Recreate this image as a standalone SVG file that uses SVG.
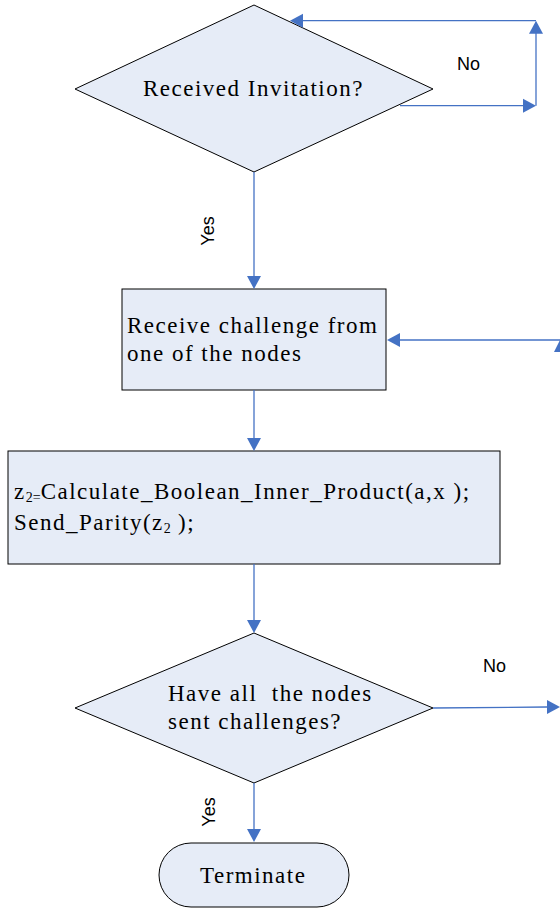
<svg xmlns="http://www.w3.org/2000/svg" width="560" height="909" viewBox="0 0 560 909">
<style>
.shape{fill:#E6ECF7;stroke:#000;stroke-width:1}
.t{font-family:"Liberation Serif","Times New Roman",serif;font-size:23px;letter-spacing:1.5px;fill:#000;white-space:pre}
.lbl{font-family:"Liberation Sans",Arial,sans-serif;font-size:18px;fill:#000}
.ln{fill:none;stroke:#4472C4;stroke-width:1.3}
.ah{fill:#4472C4;stroke:none}
</style>
<rect width="560" height="909" fill="#fff"/>
<g id="decision1">
<polygon class="shape" points="254,5 433,89 254,172 75,89"/>
<text class="t" x="143" y="96">Received Invitation?</text>
</g>
<g id="receive">
<rect class="shape" x="122" y="289" width="264" height="101"/>
<text class="t" x="127" y="333">Receive challenge from</text>
<text class="t" x="127" y="361">one of the nodes</text>
</g>
<g id="compute">
<rect class="shape" x="8" y="451" width="492" height="113"/>
<text class="t" x="14" y="499">z<tspan font-size="14" letter-spacing="0" dy="3">2=</tspan><tspan dy="-3">Calculate_Boolean_Inner_Product(a,x );</tspan></text>
<text class="t" x="14" y="530">Send_Parity(z<tspan font-size="14" letter-spacing="0" dy="3">2</tspan><tspan dy="-3"> );</tspan></text>
</g>
<g id="decision2">
<polygon class="shape" points="254,633 433,708 254,783 75,708"/>
<text class="t" x="168" y="701">Have all  the nodes</text>
<text class="t" x="168" y="729">sent challenges?</text>
</g>
<g id="terminate">
<rect class="shape" x="159" y="843" width="190" height="64" rx="32" ry="32"/>
<text class="t" x="200" y="883">Terminate</text>
</g>
<g id="connectors">
<line class="ln" x1="400" y1="105.7" x2="524" y2="105.7"/>
<polygon class="ah" points="536,105.7 523,98.7 523,112.7"/>
<line class="ln" x1="536" y1="105.7" x2="536" y2="32"/>
<polygon class="ah" points="536,20.7 529,33.7 543,33.7"/>
<line class="ln" x1="536" y1="20.7" x2="302" y2="20.7"/>
<polygon class="ah" points="290,20.7 303,13.7 303,27.7"/>
<line class="ln" x1="254" y1="172" x2="254" y2="276"/>
<polygon class="ah" points="254,289 247,276 261,276"/>
<line class="ln" x1="560" y1="340" x2="399" y2="340"/>
<polygon class="ah" points="387,340 400,333 400,347"/>
<polygon class="ah" points="561,338 554,352 568,352"/>
<line class="ln" x1="254" y1="390" x2="254" y2="438"/>
<polygon class="ah" points="254,451 247,438 261,438"/>
<line class="ln" x1="254" y1="564" x2="254" y2="620"/>
<polygon class="ah" points="254,633 247,620 261,620"/>
<line class="ln" x1="433" y1="708" x2="547" y2="707"/>
<polygon class="ah" points="560,707 547,700 547,714"/>
<line class="ln" x1="254" y1="783" x2="254" y2="829"/>
<polygon class="ah" points="254,842 247,829 261,829"/>
</g>
<g id="labels">
<text class="lbl" x="457" y="70">No</text>
<text class="lbl" x="483" y="672">No</text>
<text class="lbl" transform="translate(214,231) rotate(-90)" text-anchor="middle">Yes</text>
<text class="lbl" transform="translate(215,812) rotate(-90)" text-anchor="middle">Yes</text>
</g>
</svg>
